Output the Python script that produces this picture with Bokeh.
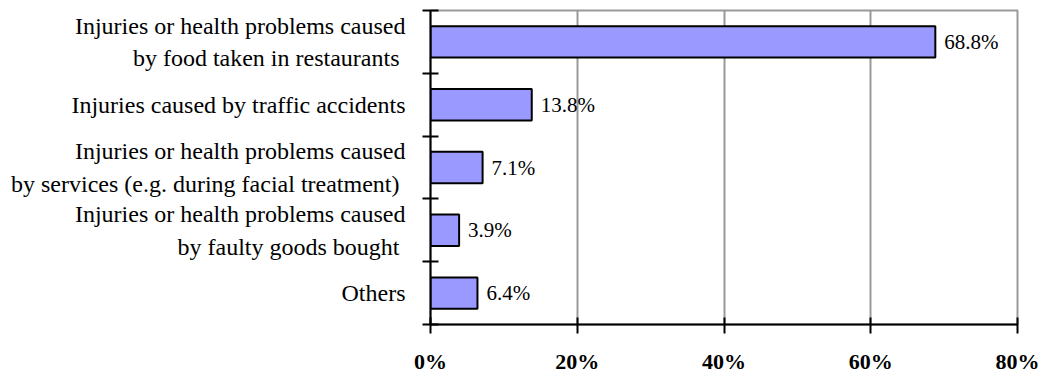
import numpy as np
from bokeh.plotting import figure
from bokeh.models import FixedTicker, Range1d, ColumnDataSource, PrintfTickFormatter
from bokeh.core.properties import value
from bokeh.embed import file_html
from bokeh.resources import INLINE

categories = [
    "Injuries or health problems caused\nby food taken in restaurants ",
    "Injuries caused by traffic accidents",
    "Injuries or health problems caused\nby  services (e.g. during facial treatment)",
    "Injuries or health problems caused\nby faulty goods bought ",
    "Others",
]
values = [68.8, 13.8, 7.1, 3.9, 6.4]
value_labels = ["68.8%", "13.8%", "7.1%", "3.9%", "6.4%"]
x_ticks = [0, 20, 40, 60, 80]

n = len(categories)
centers = [n - i - 0.5 for i in range(n)]

src = ColumnDataSource(dict(y=centers, v=values, lab=value_labels))

p = figure(width=1040, height=376, output_backend="svg", toolbar_location=None,
           x_range=Range1d(0, 80), y_range=Range1d(0, n),
           min_border_left=430, min_border_right=23, min_border_top=10, min_border_bottom=48)
p.background_fill_color = "white"
p.border_fill_color = "white"
p.outline_line_color = "#999999"
p.outline_line_width = 2

p.hbar(y="y", right="v", left=0, height=0.5, source=src,
       fill_color="#9999FF", line_color="black", line_width=2)
p.text(x="v", y="y", text="lab", source=src, x_offset=9,
       text_baseline="middle", text_align="left",
       text_font=value("Liberation Serif"), text_font_size="21px", text_color="black")

# x axis
p.xaxis.ticker = FixedTicker(ticks=x_ticks)
p.xaxis.formatter = PrintfTickFormatter(format="%d%%")
p.xaxis.axis_line_width = 2
p.xaxis.major_tick_line_width = 2
p.xaxis.major_tick_in = 7
p.xaxis.major_tick_out = 9
p.xaxis.minor_tick_line_color = None
p.xaxis.major_label_text_font = "Liberation Serif"
p.xaxis.major_label_text_font_style = "bold"
p.xaxis.major_label_text_font_size = "22px"
p.xaxis.major_label_text_color = "black"
p.xaxis.major_label_standoff = 15

# y axis
p.yaxis.ticker = FixedTicker(ticks=centers, minor_ticks=list(range(n + 1)))
p.yaxis.major_label_overrides = {c: lab for c, lab in zip(centers, categories)}
p.yaxis.axis_line_width = 2
p.yaxis.major_tick_line_color = None
p.yaxis.major_tick_in = 0
p.yaxis.major_tick_out = 0
p.yaxis.minor_tick_line_width = 2
p.yaxis.minor_tick_in = 8
p.yaxis.minor_tick_out = 8
p.yaxis.major_label_standoff = 17
p.yaxis.major_label_text_font = "Liberation Serif"
p.yaxis.major_label_text_font_size = "24px"
p.yaxis.major_label_text_color = "black"
p.yaxis.major_label_text_line_height = 1.25
p.yaxis.major_label_text_align = "right"

p.xgrid.grid_line_color = "#999999"
p.xgrid.grid_line_width = 2
p.ygrid.grid_line_color = None

open("out.html", "w").write(file_html(p, INLINE))
